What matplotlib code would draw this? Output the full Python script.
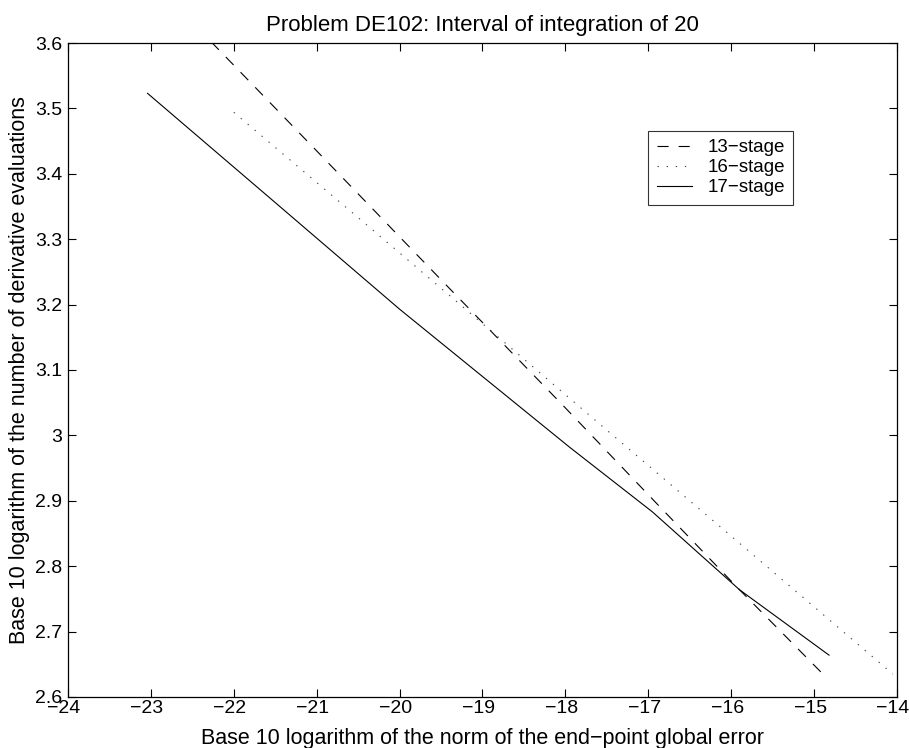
import matplotlib
matplotlib.use('Agg')
import matplotlib.pyplot as plt
import matplotlib.transforms as mtransforms

plt.rcParams['font.family'] = ['Liberation Sans', 'DejaVu Sans']

# log10 of end-point global error vs log10 of derivative evaluations
x13 = [-22.45, -21.0, -19.5, -18.0, -16.9, -15.9, -14.87]
y13 = [3.625, 3.435, 3.238, 3.042, 2.896, 2.764, 2.632]

x16 = [-22.0, -20.5, -19.0, -17.5, -16.0, -14.05]
y16 = [3.494, 3.333, 3.171, 3.008, 2.846, 2.635]

x17 = [-23.04, -21.5, -20.0, -17.95, -16.95, -15.9, -14.82]
y17 = [3.523, 3.356, 3.193, 2.982, 2.883, 2.764, 2.664]

xticks = list(range(-24, -13))
yticks = [2.6, 2.7, 2.8, 2.9, 3.0, 3.1, 3.2, 3.3, 3.4, 3.5, 3.6]
yticklabels = ['2.6', '2.7', '2.8', '2.9', '3', '3.1', '3.2', '3.3', '3.4', '3.5', '3.6']

fig = plt.figure(figsize=(9.09, 7.48), dpi=100)
ax = fig.add_axes([0.0748, 0.0682, 0.912, 0.8743])

ax.plot(x13, y13, color='black', linestyle=(0, (10, 9)), linewidth=0.8, label='13\u2212stage')
ax.plot(x16, y16, color='#444444', linestyle=(0, (1.2, 7)), linewidth=0.8, label='16\u2212stage')
ax.plot(x17, y17, color='black', linestyle='-', linewidth=0.8, label='17\u2212stage')

ax.set_xlim(-24, -14)
ax.set_ylim(2.6, 3.6)
ax.set_xticks(xticks)
ax.set_xticklabels([str(t).replace('-', '\u2212') for t in xticks])
ax.set_yticks(yticks)
ax.set_yticklabels(yticklabels)
ax.tick_params(direction='in', length=5.8, width=0.8, top=True, right=True, labelsize=14)
ax.tick_params(axis='x', pad=2)
ax.tick_params(axis='y', pad=4)
# MATLAB puts the x labels a touch left of the ticks
shift = mtransforms.ScaledTranslation(-4 / 100, 0, fig.dpi_scale_trans)
for lab in ax.get_xticklabels():
    lab.set_transform(lab.get_transform() + shift)
for s in ax.spines.values():
    s.set_linewidth(0.9)

ax.set_title('Problem DE102: Interval of integration of 20', fontsize=16, pad=9)
ax.set_xlabel('Base 10 logarithm of the norm of the end\u2212point global error', fontsize=15.5, labelpad=8)
ax.set_ylabel('Base 10 logarithm of the number of derivative evaluations', fontsize=15.5, labelpad=4)

leg = ax.legend(loc='upper left', bbox_to_anchor=(0.70, 0.866), fontsize=13.5,
                frameon=True, fancybox=False, edgecolor='black', handlelength=1.9,
                borderpad=0.45, labelspacing=0.15, handletextpad=0.8, borderaxespad=0)
leg.get_frame().set_linewidth(0.8)

fig.savefig('out.png', dpi=100)
